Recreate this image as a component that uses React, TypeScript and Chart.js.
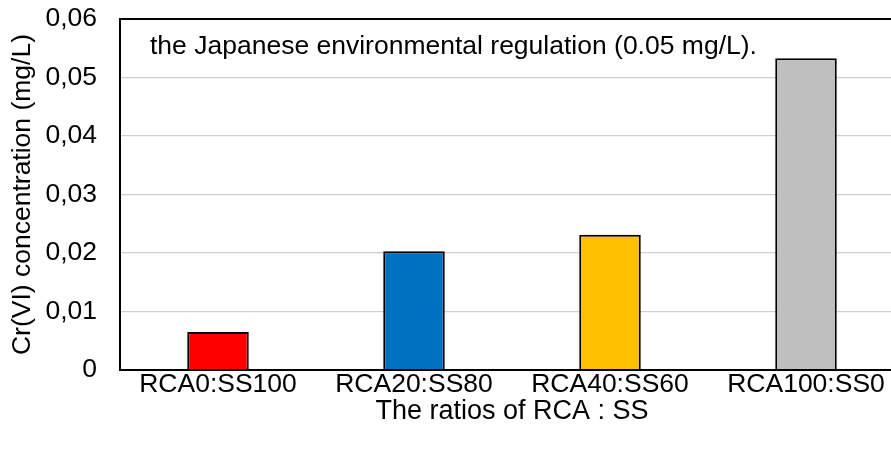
import React, { useEffect, useRef } from "react";
import { Chart, registerables } from "chart.js";

Chart.register(...registerables);

const categories = ["RCA0:SS100", "RCA20:SS80", "RCA40:SS60", "RCA100:SS0"];
const crviValues = [0.0065, 0.0203, 0.0231, 0.0533];
const barColors = ["#ff0000", "#0070c0", "#ffc000", "#bfbfbf"];
const yTickLabels = ["0", "0,01", "0,02", "0,03", "0,04", "0,05", "0,06"];
const yTitle = "Cr(VI) concentration (mg/L)";
const xTitle = "The ratios of RCA : SS";
const noteText = "the Japanese environmental regulation (0.05 mg/L).";

const FONT = "'Liberation Sans', Arial, Helvetica, sans-serif";
const FS = 26.5;

export default function App() {
  const ref = useRef<HTMLCanvasElement | null>(null);

  useEffect(() => {
    const canvas = ref.current;
    if (!canvas) return;

    const boxPlugin = {
      id: "boxAndNote",
      afterDatasetsDraw(chart: any) {
        const { ctx, chartArea } = chart;
        ctx.save();
        ctx.strokeStyle = "#000";
        ctx.lineWidth = 2;
        ctx.strokeRect(chartArea.left, chartArea.top, chartArea.right - chartArea.left, chartArea.bottom - chartArea.top);
        ctx.fillStyle = "#000";
        ctx.font = `${FS}px ${FONT}`;
        ctx.textAlign = "left";
        ctx.textBaseline = "middle";
        ctx.fillText(noteText, chartArea.left + 30, chartArea.top + 28);
        ctx.restore();
      },
    };

    const chart = new Chart(canvas, {
      type: "bar",
      data: {
        labels: categories,
        datasets: [
          {
            data: crviValues,
            backgroundColor: barColors,
            borderColor: "#000",
            borderWidth: 2,
            barPercentage: 0.314,
            categoryPercentage: 1,
          },
        ],
      },
      options: {
        responsive: false,
        animation: false,
        devicePixelRatio: 1,
        layout: { padding: { top: 19, right: 0, bottom: 0, left: 0 } },
        plugins: {
          legend: { display: false },
          tooltip: { enabled: false },
        },
        scales: {
          x: {
            grid: { display: false, drawTicks: false },
            border: { display: false },
            ticks: {
              color: "#000",
              font: { family: FONT, size: FS, lineHeight: 1 },
              padding: 1,
              maxRotation: 0,
              autoSkip: false,
            },
            title: {
              display: true,
              text: xTitle,
              color: "#000",
              font: { family: FONT, size: 27, lineHeight: 1.2 },
              padding: { top: 0, bottom: 24 },
            },
            afterFit(scale: any) {
              scale.height = 82;
              scale.paddingLeft = 0;
              scale.paddingRight = 0;
            },
          },
          y: {
            min: 0,
            max: 0.06,
            grid: { color: "#cfcfcf", lineWidth: 1.2, drawTicks: false },
            border: { display: false },
            ticks: {
              stepSize: 0.01,
              color: "#000",
              font: { family: FONT, size: FS },
              padding: 23,
              callback: (_v: any, i: number) => yTickLabels[i],
            },
            title: {
              display: true,
              text: yTitle,
              color: "#000",
              font: { family: FONT, size: FS, lineHeight: 1.2 },
              padding: { top: 7, bottom: 0 },
            },
            afterFit(scale: any) {
              scale.width = 120;
              scale.paddingTop = 0;
              scale.paddingBottom = 0;
            },
          },
        },
      },
      plugins: [boxPlugin],
    });

    return () => chart.destroy();
  }, []);

  return (
    <div
      style={{
        position: "fixed",
        left: 0,
        top: 0,
        width: 891,
        height: 452,
        overflow: "hidden",
        background: "#fff",
      }}
    >
      <canvas
        ref={ref}
        width={904}
        height={452}
        style={{ display: "block", width: "904px", height: "452px" }}
      />
    </div>
  );
}
